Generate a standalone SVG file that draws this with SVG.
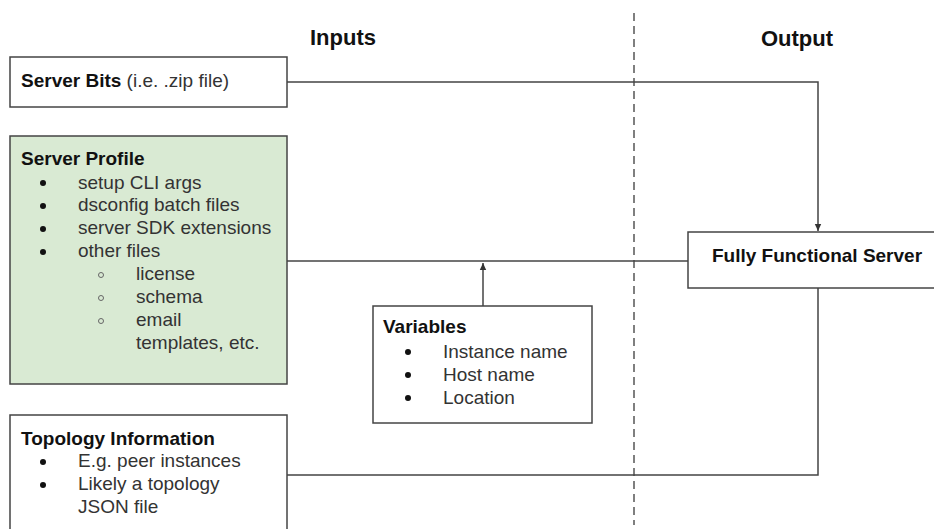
<svg xmlns="http://www.w3.org/2000/svg" width="934" height="529" viewBox="0 0 934 529">
<style>
text{font-family:"Liberation Sans",Arial,sans-serif;font-size:19px;fill:#333}
.b{font-weight:bold;fill:#111}
.h{font-weight:bold;font-size:22px;fill:#111}
.box{fill:#fff;stroke:#444;stroke-width:1.5}
.green{fill:#d9ead3}
.ln{fill:none;stroke:#444;stroke-width:1.5}
.dot{fill:#111}
.ring{fill:none;stroke:#666;stroke-width:1}
</style>
<defs>
<marker id="arr" markerWidth="8" markerHeight="8" refX="7" refY="4" orient="auto" markerUnits="userSpaceOnUse">
<path d="M0,0.8 L7,4 L0,7.2 Z" fill="#333"/>
</marker>
</defs>
<rect width="934" height="529" fill="#fff"/>
<text class="h" x="343" y="45" text-anchor="middle">Inputs</text>
<text class="h" x="797" y="46" text-anchor="middle">Output</text>
<line x1="634" y1="13" x2="634" y2="525" stroke="#555" stroke-width="1.5" stroke-dasharray="8,5"/>
<g id="connectors">
<path class="ln" d="M287,82 H818 V231" marker-end="url(#arr)"/>
<path class="ln" d="M287,261 H688"/>
<path class="ln" d="M483,306 V263" marker-end="url(#arr)"/>
<path class="ln" d="M287,475 H818 V288"/>
</g>
<g id="server-bits">
<rect class="box" x="10" y="57" width="277" height="50"/>
<text x="21" y="87"><tspan class="b">Server Bits</tspan> (i.e. .zip file)</text>
</g>
<g id="server-profile">
<rect class="box green" x="10" y="136" width="277" height="248"/>
<text class="b" x="21" y="165">Server Profile</text>
<circle class="dot" cx="43" cy="183" r="3"/><text x="78" y="189">setup CLI args</text>
<circle class="dot" cx="43" cy="206" r="3"/><text x="78" y="211">dsconfig batch files</text>
<circle class="dot" cx="43" cy="229" r="3"/><text x="78" y="234">server SDK extensions</text>
<circle class="dot" cx="43" cy="252" r="3"/><text x="78" y="257">other files</text>
<circle class="ring" cx="101" cy="275" r="2.5"/><text x="136" y="280">license</text>
<circle class="ring" cx="101" cy="298" r="2.5"/><text x="136" y="303">schema</text>
<circle class="ring" cx="101" cy="321" r="2.5"/><text x="136" y="326">email</text>
<text x="136" y="349">templates, etc.</text>
</g>
<g id="variables">
<rect class="box" x="373" y="306" width="219" height="117"/>
<text class="b" x="383" y="333">Variables</text>
<circle class="dot" cx="408" cy="352" r="3"/><text x="443" y="358">Instance name</text>
<circle class="dot" cx="408" cy="375" r="3"/><text x="443" y="381">Host name</text>
<circle class="dot" cx="408" cy="398" r="3"/><text x="443" y="404">Location</text>
</g>
<g id="topology">
<rect class="box" x="10" y="415" width="277" height="130"/>
<text class="b" x="21" y="445">Topology Information</text>
<circle class="dot" cx="43" cy="462" r="3"/><text x="78" y="467">E.g. peer instances</text>
<circle class="dot" cx="43" cy="485" r="3"/><text x="78" y="490">Likely a topology</text>
<text x="78" y="513">JSON file</text>
</g>
<g id="fully-functional-server">
<rect class="box" x="688" y="232" width="250" height="56"/>
<text class="b" x="817" y="262" text-anchor="middle">Fully Functional Server</text>
</g>
</svg>
